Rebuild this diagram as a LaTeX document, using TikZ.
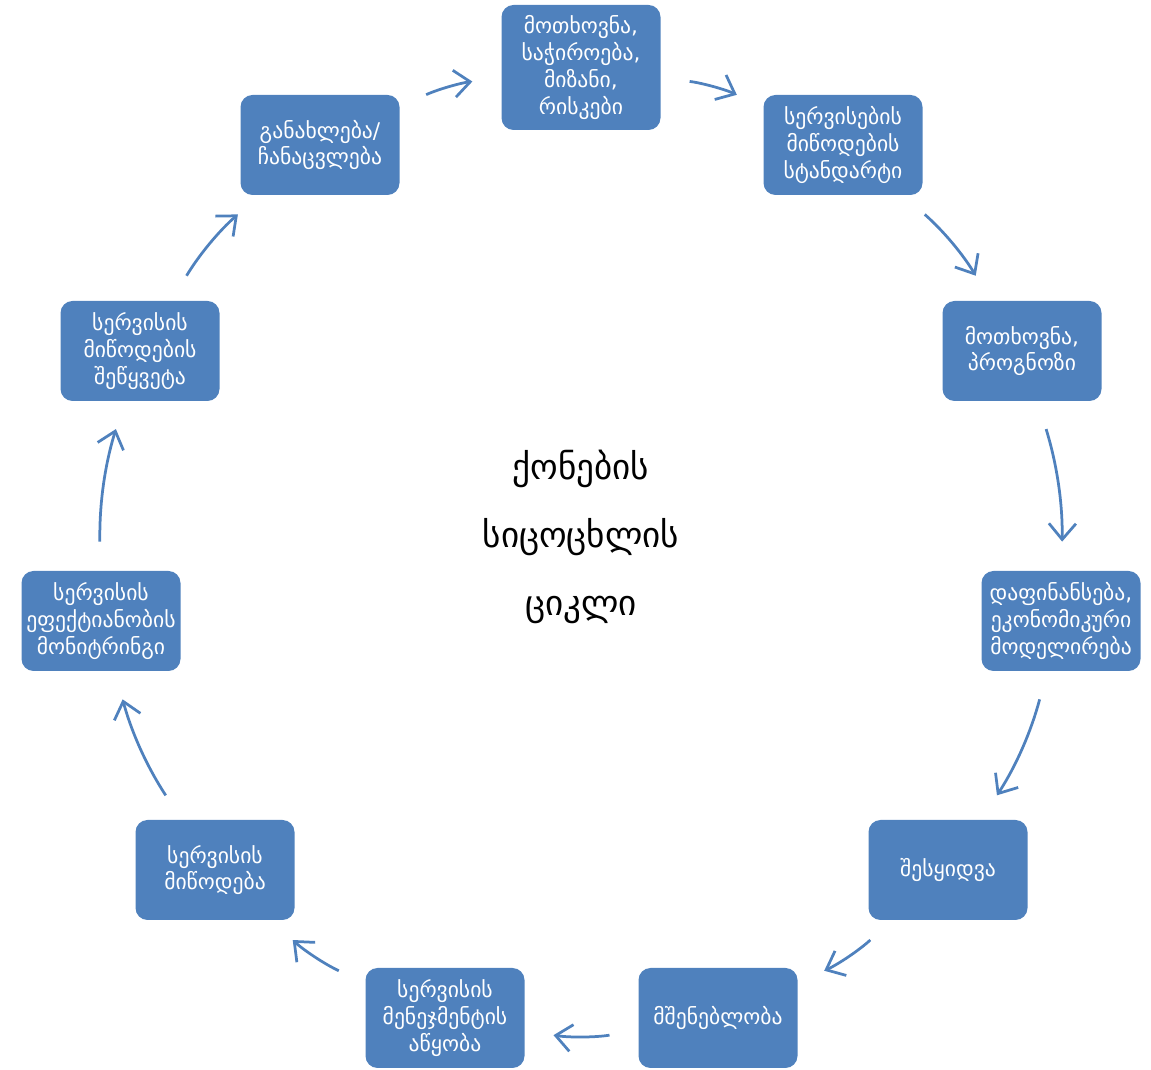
\documentclass[tikz,border=0pt]{standalone}
\usepackage{fontspec}
\setmainfont{DejaVu Sans}
\usetikzlibrary{arrows.meta}
\definecolor{boxblue}{HTML}{4F81BD}

\begin{document}
\begin{tikzpicture}[
	box/.style={fill=boxblue, rounded corners=0.24cm, minimum width=3.18cm, minimum height=2cm,
		align=center, text=white, inner sep=0pt, font=\fontsize{12.3}{15.3}\selectfont},
	arr/.style={draw=boxblue, line width=0.55mm, shorten <=0.58cm, shorten >=0.58cm,
		-{Straight Barb[length=3.2mm,width=5.4mm]}}
	]
			%%%%% START %%%%%
			
			\useasboundingbox (0, 0) rectangle (23.02, -21.4);
			
			\node[box, minimum height=2.5cm] (need) at (11.62, -1.35) {მოთხოვნა,\\საჭიროება,\\მიზანი,\\რისკები};
			\node[box] (standard) at (16.86, -2.9) {სერვისების\\მიწოდების\\სტანდარტი};
			\node[box] (forecast) at (20.44, -7.02) {მოთხოვნა,\\პროგნოზი};
			\node[box] (finance) at (21.22, -12.42) {დაფინანსება,\\ეკონომიკური\\მოდელირება};
			\node[box] (purchase) at (18.96, -17.4) {შესყიდვა};
			\node[box] (build) at (14.36, -20.36) {მშენებლობა};
			\node[box] (setup) at (8.9, -20.36) {სერვისის\\მენეჯმენტის\\აწყობა};
			\node[box] (deliver) at (4.3, -17.4) {სერვისის\\მიწოდება};
			\node[box] (monitor) at (2.02, -12.42) {სერვისის\\ეფექტიანობის\\მონიტრინგი};
			\node[box] (stop) at (2.8, -7.02) {სერვისის\\მიწოდების\\შეწყვეტა};
			\node[box] (renew) at (6.4, -2.9) {განახლება/\\ჩანაცვლება};
			
			\node[align=center, font=\fontsize{20}{38.6}\selectfont] (title) at (11.62, -10.74) {ქონების\\სიცოცხლის\\ციკლი};
			
			\draw[arr] (need) to[bend left=9] (standard);
			\draw[arr] (standard) to[bend left=9] (forecast);
			\draw[arr] (forecast) to[bend left=9] (finance);
			\draw[arr] (finance) to[bend left=9] (purchase);
			\draw[arr] (purchase) to[bend left=9] (build);
			\draw[arr] (build) to[bend left=9] (setup);
			\draw[arr] (setup) to[bend left=9] (deliver);
			\draw[arr] (deliver) to[bend left=9] (monitor);
			\draw[arr] (monitor) to[bend left=9] (stop);
			\draw[arr] (stop) to[bend left=9] (renew);
			\draw[arr] (renew) to[bend left=9] (need);
			
			%%%%% END %%%%%
\end{tikzpicture}
\end{document}
